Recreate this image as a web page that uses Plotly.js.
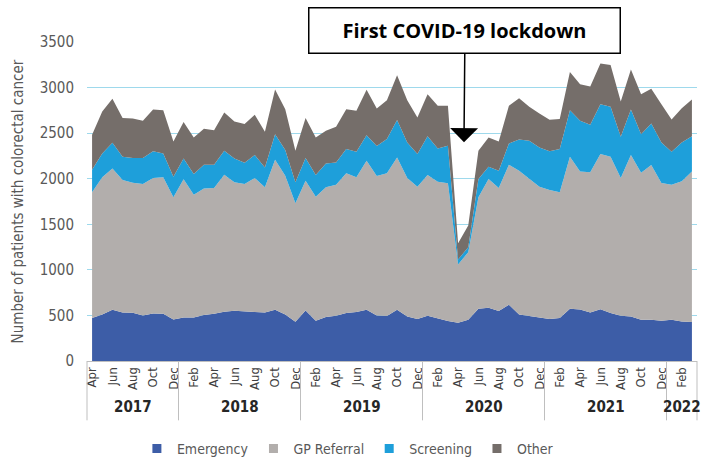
<!DOCTYPE html>
<html>
<head>
<meta charset="utf-8">
<script src="https://cdn.plot.ly/plotly-3.0.1.min.js"></script>
<style>
  html, body { margin: 0; padding: 0; background: #fff; }
  #chart { width: 710px; height: 459px; }
</style>
</head>
<body>
<div id="chart"></div>
<script>
// ---- Data ----
const periods = [
  '2017-04','2017-05','2017-06','2017-07','2017-08','2017-09','2017-10','2017-11','2017-12',
  '2018-01','2018-02','2018-03','2018-04','2018-05','2018-06','2018-07','2018-08','2018-09','2018-10','2018-11','2018-12',
  '2019-01','2019-02','2019-03','2019-04','2019-05','2019-06','2019-07','2019-08','2019-09','2019-10','2019-11','2019-12',
  '2020-01','2020-02','2020-03','2020-04','2020-05','2020-06','2020-07','2020-08','2020-09','2020-10','2020-11','2020-12',
  '2021-01','2021-02','2021-03','2021-04','2021-05','2021-06','2021-07','2021-08','2021-09','2021-10','2021-11','2021-12',
  '2022-01','2022-02','2022-03'
];

const emergency = [
  471, 511, 562, 533, 529, 500, 522, 518, 456,
  478, 478, 504, 518, 540, 551, 548, 537, 533, 562, 511, 431,
  555, 442, 482, 496, 526, 537, 562, 500, 493, 562, 489, 460,
  496, 467, 438, 420, 453, 573, 584, 548, 617, 511, 493, 475,
  460, 471, 573, 566, 533, 569, 526, 496, 489, 453, 453, 442,
  453, 434, 427
];

const gpReferral = [
  1380, 1504, 1551, 1453, 1427, 1442, 1486, 1497, 1340,
  1515, 1347, 1390, 1380, 1504, 1409, 1394, 1471, 1372, 1646, 1522, 1299,
  1423, 1361, 1423, 1439, 1533, 1478, 1635, 1529, 1566, 1672, 1519, 1453,
  1544, 1500, 1511, 639, 741, 1223, 1413, 1350, 1537, 1577, 1504, 1438,
  1416, 1380, 1668, 1514, 1537, 1701, 1715, 1512, 1770, 1613, 1697, 1511,
  1482, 1537, 1653
];

const screening = [
  248, 263, 281, 255, 271, 285, 292, 263, 226,
  230, 226, 260, 256, 263, 263, 233, 251, 219, 281, 281, 230,
  249, 237, 263, 244, 266, 281, 281, 329, 376, 409, 390, 357,
  427, 365, 413, 54, 54, 201, 135, 190, 233, 343, 419, 430,
  424, 474, 511, 555, 522, 548, 548, 452, 500, 423, 456, 445,
  361, 427, 387
];

const other = [
  383, 460, 482, 424, 434, 408, 459, 474, 387,
  398, 402, 394, 379, 420, 405, 424, 442, 391, 489, 449, 347,
  438, 413, 358, 391, 438, 449, 497, 412, 427, 492, 464, 402,
  460, 468, 438, 179, 238, 310, 321, 321, 413, 453, 373, 373,
  346, 329, 420, 402, 419, 445, 460, 387, 438, 438, 380, 420,
  354, 376, 402
];

const seriesNames  = ['Emergency', 'GP Referral', 'Screening', 'Other'];
const seriesColors = ['#3D5DA7', '#B2AEAC', '#1E9FDA', '#756E6A'];
const monthAbbr = ['Jan','Feb','Mar','Apr','May','Jun','Jul','Aug','Sep','Oct','Nov','Dec'];
const annotationText = 'First COVID-19 lockdown';
const yTitle = 'Number of patients with colorectal cancer';

// ---- Build ----
const FONT = '"Liberation Sans Narrow", "DejaVu Sans Condensed", Arial, sans-serif';
const seriesValues = [emergency, gpReferral, screening, other];
const N = periods.length;

const traces = seriesValues.map((vals, k) => ({
  type: 'scatter',
  mode: 'lines',
  x: periods,
  y: vals,
  name: seriesNames[k],
  stackgroup: 'one',
  line: { width: 0, color: seriesColors[k] },
  fillcolor: seriesColors[k],
  showlegend: false,
  hovertemplate: seriesNames[k] + ': %{y}<extra></extra>'
}));

// legend entries (small squares like the original)
seriesNames.forEach((name, k) => {
  traces.push({
    type: 'scatter', mode: 'markers', x: [null], y: [null], name: name,
    marker: { symbol: 'square', size: 9, color: seriesColors[k] },
    showlegend: true, hoverinfo: 'skip'
  });
});

// tick labels every 2 months
const tickvals = periods.filter((p, i) => i % 2 === 0);
const ticktext = tickvals.map(p => monthAbbr[parseInt(p.slice(5, 7), 10) - 1]);

// year groups
const groups = [];
periods.forEach((p, i) => {
  const yr = p.slice(0, 4);
  if (!groups.length || groups[groups.length - 1].year !== yr) groups.push({ year: yr, first: i, last: i });
  else groups[groups.length - 1].last = i;
});

const shapes = [];
const annotations = [];
const sepBottom = -0.186;
groups.forEach((g, gi) => {
  const bounds = gi === groups.length - 1 ? [g.first - 0.5, g.last + 0.5] : [g.first - 0.5];
  bounds.forEach(b => {
    shapes.push({
      type: 'line', xref: 'paper', yref: 'paper',
      x0: (b + 0.5) / N, x1: (b + 0.5) / N, y0: 0, y1: sepBottom,
      line: { color: '#BFBFBF', width: 1 }
    });
  });
  annotations.push({
    xref: 'x', yref: 'paper', x: (g.first + g.last) / 2, y: -0.145,
    text: '<b>' + g.year + '</b>', showarrow: false,
    font: { family: FONT, size: 15, color: '#262626' },
    xanchor: 'center', yanchor: 'middle'
  });
});

annotations.push({
  xref: 'paper', yref: 'paper', x: 0.618, y: 0.686,
  ax: 1, ay: -112,
  text: '<b>' + annotationText + '</b>',
  showarrow: true, arrowhead: 1, arrowsize: 3.1, arrowwidth: 1.5, arrowcolor: '#000000',
  bgcolor: '#FFFFFF', bordercolor: '#000000', borderwidth: 1.5, borderpad: 1,
  width: 308, height: 42,
  font: { family: '"Open Sans", "Noto Sans", sans-serif', size: 20, color: '#000000' }
});

const layout = {
  width: 710, height: 459,
  margin: { l: 87, r: 13, t: 42, b: 98 },
  paper_bgcolor: '#FFFFFF', plot_bgcolor: '#FFFFFF',
  font: { family: FONT, color: '#595959' },
  showlegend: true,
  legend: {
    orientation: 'h', xref: 'container', yref: 'container',
    x: 0.49, xanchor: 'center', y: 0.022, yanchor: 'middle',
    font: { family: FONT, size: 14, color: '#595959' },
    traceorder: 'normal', itemwidth: 30, tracegroupgap: 0
  },
  xaxis: {
    type: 'category', range: [-0.5, N - 0.5],
    tickmode: 'array', tickvals: tickvals, ticktext: ticktext,
    tickangle: -90, tickfont: { family: FONT, size: 13, color: '#404040' },
    showgrid: false, zeroline: false,
    showline: true, linecolor: '#BFBFBF', linewidth: 1,
    ticks: '', fixedrange: true
  },
  yaxis: {
    range: [0, 3500], dtick: 500, tick0: 0,
    showgrid: true, gridcolor: '#9ED9EC', gridwidth: 1,
    zeroline: false, showline: false, ticks: '',
    ticklabelstandoff: 12,
    tickfont: { family: FONT, size: 15, color: '#595959' },
    title: { text: yTitle, font: { family: FONT, size: 15, color: '#595959' }, standoff: 12 },
    fixedrange: true
  },
  shapes: shapes,
  annotations: annotations
};

Plotly.newPlot('chart', traces, layout, { displayModeBar: false, staticPlot: true });
</script>
</body>
</html>
